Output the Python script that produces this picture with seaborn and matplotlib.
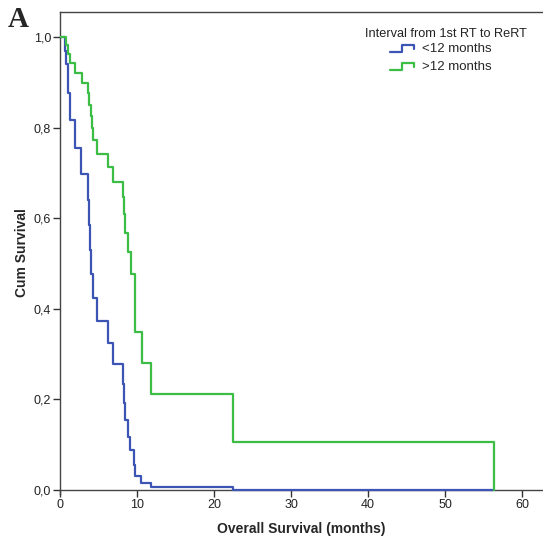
import matplotlib
matplotlib.use("Agg")
import matplotlib.pyplot as plt
from matplotlib.lines import Line2D
from matplotlib.legend_handler import HandlerBase
import seaborn as sns
import pandas as pd

# Kaplan-Meier step curves: time of each drop (months) and survival after it
lt12_time = [0, 0.6, 0.75, 1.0, 1.3, 2.0, 2.75, 3.65, 3.8, 3.95, 4.05, 4.24, 4.85,
             6.28, 6.93, 8.14, 8.31, 8.5, 8.8, 9.15, 9.65, 9.8, 10.5, 11.8, 22.5, 56.2]
lt12_surv = [1.0, 0.97, 0.94, 0.877, 0.817, 0.756, 0.698, 0.64, 0.585, 0.53, 0.478, 0.423, 0.373,
             0.325, 0.279, 0.235, 0.193, 0.154, 0.118, 0.088, 0.055, 0.031, 0.015, 0.007, 0.0, 0.0]

gt12_time = [0, 0.78, 1.0, 1.3, 1.95, 2.8, 3.68, 3.81, 3.98, 4.11, 4.24, 4.85,
             6.25, 6.9, 8.14, 8.25, 8.44, 8.79, 9.22, 9.74, 9.8, 10.6, 11.82, 22.5, 56.3]
gt12_surv = [1.0, 0.982, 0.962, 0.942, 0.92, 0.898, 0.876, 0.85, 0.826, 0.80, 0.773, 0.743,
             0.714, 0.68, 0.647, 0.609, 0.567, 0.526, 0.478, 0.419, 0.349, 0.281, 0.211, 0.105, 0.0]

groups = ["<12 months", ">12 months"]
colors = ["#3c55b4", "#3cbe46"]
legend_title = "Interval from 1st RT to ReRT"
y_ticks = [0.0, 0.2, 0.4, 0.6, 0.8, 1.0]
y_ticklabels = ["0,0", "0,2", "0,4", "0,6", "0,8", "1,0"]
x_ticks = [0, 10, 20, 30, 40, 50, 60]

df = pd.concat([
    pd.DataFrame({"group": groups[0], "time": lt12_time, "surv": lt12_surv}),
    pd.DataFrame({"group": groups[1], "time": gt12_time, "surv": gt12_surv}),
], ignore_index=True)

sns.set_style("white")
plt.rcParams["font.family"] = ["Liberation Sans", "DejaVu Sans"]

W, H = 543, 544
fig = plt.figure(figsize=(W / 100, H / 100), dpi=100)
ax = fig.add_axes([60 / W, 1 - 493.6 / H, 483 / W, (493.6 - 12.3) / H])

sns.lineplot(data=df, x="time", y="surv", hue="group", palette=colors,
             hue_order=groups, estimator=None, sort=False, drawstyle="steps-post",
             linewidth=1.6, ax=ax, legend=False, zorder=3)

ax.set_xlim(0, 62.7)
ax.set_ylim(-0.008, 1.055)
ax.set_xticks(x_ticks)
ax.set_yticks(y_ticks)
ax.set_yticklabels(y_ticklabels)
ax.tick_params(axis="both", labelsize=9, length=5, width=1, color="#333333",
               labelcolor="#222222", pad=1.5, direction="out", bottom=True, left=True)

ax.spines["right"].set_visible(False)
for side in ["left", "top", "bottom"]:
    ax.spines[side].set_color("#444444")
    ax.spines[side].set_linewidth(1.0)
ax.spines["bottom"].set_position(("data", 0))

ax.set_xlabel("Overall Survival (months)", fontsize=10, fontweight="bold", labelpad=8)
ax.set_ylabel("Cum Survival", fontsize=10, fontweight="bold", labelpad=3)


class StepHandler(HandlerBase):
    def create_artists(self, legend, orig_handle, xdescent, ydescent, width, height,
                       fontsize, trans):
        x0, x1 = -xdescent, -xdescent + width
        xm = x0 + width * 0.5
        lo, hi = -ydescent + height * 0.05, -ydescent + height * 0.75
        line = Line2D([x0, xm, xm, x1, x1], [lo, lo, hi, hi, lo + height * 0.3],
                      color=orig_handle.get_color(), linewidth=1.6, transform=trans)
        return [line]


handles = [Line2D([], [], color=c) for c in colors]
leg = ax.legend(handles, groups, handler_map={Line2D: StepHandler()}, frameon=False,
                fontsize=9.5, loc="upper left",
                bbox_to_anchor=(390 / W, 1 - 43 / H), bbox_transform=fig.transFigure,
                handlelength=1.85, handletextpad=0.55, labelspacing=0.45,
                borderpad=0.0, borderaxespad=0.0)
fig.text(365 / W, 1 - 34 / H, legend_title, fontsize=9.2, va="center", ha="left",
         color="#222222")

fig.text(8 / W, 1 - 6 / H, "A", fontsize=21, fontweight="bold",
         family=["Liberation Serif", "DejaVu Serif"], va="top", ha="left")

fig.savefig("out.png", dpi=100)
